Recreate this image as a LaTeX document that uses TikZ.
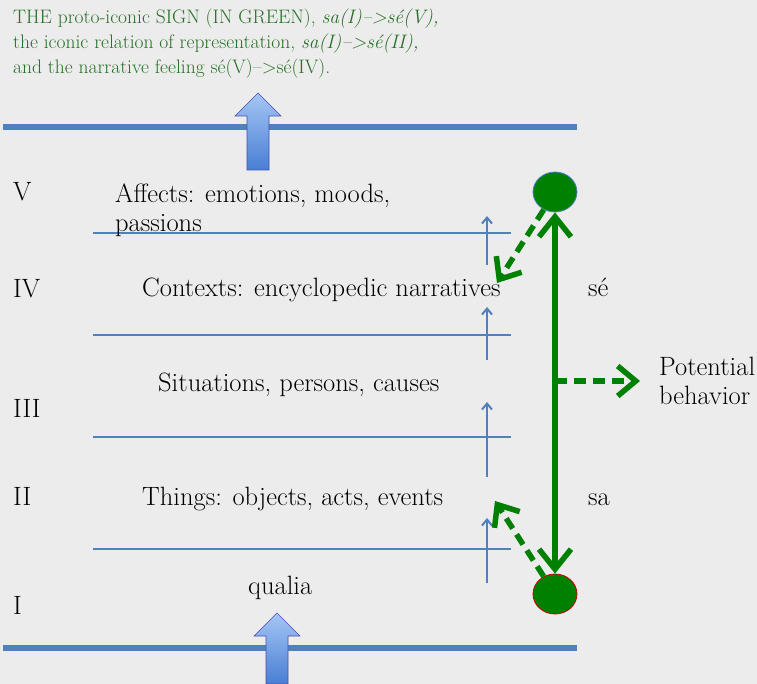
\documentclass[tikz,border=0pt]{standalone}
\usetikzlibrary{arrows.meta,shapes.geometric}
\definecolor{bggray}{RGB}{236,236,236}
\definecolor{lineblue}{RGB}{79,129,189}
\definecolor{arrowlight}{RGB}{165,198,245}
\definecolor{arrowdark}{RGB}{72,126,212}
\definecolor{signgreen}{RGB}{0,128,0}
\definecolor{titlegreen}{RGB}{40,112,40}
\tikzset{
	lvltext/.style={font=\fontsize{26.5}{29}\selectfont, anchor=base west, inner sep=0pt, align=left},
	thinline/.style={lineblue, line width=2.5pt},
	thickline/.style={lineblue, line width=6pt},
	uparrow/.style={lineblue, line width=2pt, -{Straight Barb[length=6pt,width=10pt]}},
	blockarrow/.style={top color=arrowlight, bottom color=arrowdark, draw=gray!60!blue, line width=0.6pt},
	signdot/.style={ellipse, fill=signgreen, minimum width=44pt, minimum height=40pt, inner sep=0pt},
	greenarrow/.style={signgreen, line width=5.5pt, {Straight Barb[length=20pt,width=32pt]}-{Straight Barb[length=20pt,width=32pt]}},
	greendash/.style={signgreen, line width=5.5pt, dash pattern=on 12pt off 7pt, -{Straight Barb[length=18pt,width=30pt]}}
}
\begin{document}
\begin{tikzpicture}[x=1pt, y=-1pt]
	\useasboundingbox (0,0) rectangle (757,684);
	\fill[bggray] (0,0) rectangle (757,684);

	\node[anchor=base west, inner sep=0pt, align=left, text=titlegreen, font=\fontsize{19.5}{25}\selectfont] (title) at (13,74)
		{THE proto-iconic SIGN (IN GREEN), \textit{sa(I)–>sé(V),}\\
		the iconic relation of representation, \textit{sa(I)–>sé(II),}\\
		and the narrative feeling sé(V)–>sé(IV).};

	\draw[thickline] (3,127) -- (577,127);
	\draw[thickline] (3,648) -- (577,648);
	\shade[blockarrow] (258,93) -- (281,116) -- (269,116) -- (269,170) -- (247,170) -- (247,116) -- (235,116) -- cycle;
	\shade[blockarrow] (277,613) -- (300,636) -- (288,636) -- (288,684) -- (266,684) -- (266,636) -- (254,636) -- cycle;

	\foreach \y in {233, 335, 437, 549}
	\draw[thinline] (93,\y) -- (511,\y);
	\foreach \ya/\yb in {265/216, 360/307, 477/402, 583/518}
	\draw[uparrow] (487,\ya) -- (487,\yb);

	\node[lvltext] (numV) at (13,201) {V};
	\node[lvltext] (numIV) at (13,298) {IV};
	\node[lvltext] (numIII) at (13,417) {III};
	\node[lvltext] (numII) at (13,505) {II};
	\node[lvltext] (numI) at (13,614) {I};

	\node[lvltext] (affects) at (115,232) {Affects: emotions, moods,\\passions};
	\node[lvltext] (contexts) at (142,297) {Contexts: encyclopedic narratives};
	\node[lvltext] (situations) at (158,391) {Situations, persons, causes};
	\node[lvltext] (things) at (142,505) {Things: objects, acts, events};
	\node[lvltext] (qualia) at (248,594) {qualia};

	\node[lvltext] (selabel) at (588,297) {sé};
	\node[lvltext] (salabel) at (588,505) {sa};
	\node[lvltext, anchor=west, inner xsep=19pt] (behavior) at (640,381) {Potential\\behavior};

	\node[signdot, draw=lineblue, line width=0.8pt] (se) at (555,192) {};
	\node[signdot, draw=red!80!black, line width=0.8pt] (sa) at (555,594) {};

	\coordinate (narr) at (497,283);
	\coordinate (thingtip) at (495,501);
	\coordinate (branch) at (555,381);

	\draw[greenarrow] (se) -- (sa);
	\draw[greendash] (se) -- (narr);
	\draw[greendash] (sa) -- (thingtip);
	\draw[greendash] (branch) -- (behavior.west);
\end{tikzpicture}
\end{document}
